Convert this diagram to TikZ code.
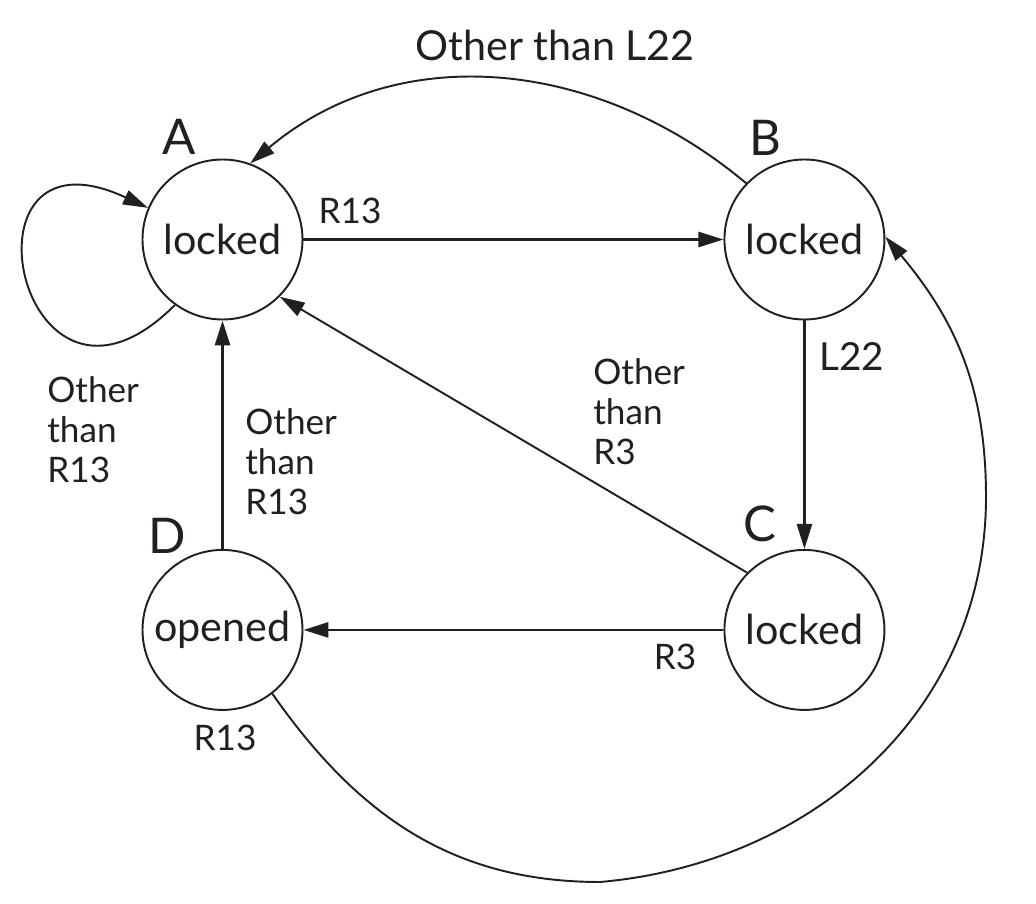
\documentclass[tikz,border=0pt]{standalone}
\usepackage{fontspec}
\setmainfont{Lato}
\usetikzlibrary{arrows.meta,positioning}
\definecolor{ink}{HTML}{231F20}
\tikzset{
  state/.style={circle, draw=ink, line width=1.1pt, minimum size=3.2cm, inner sep=0pt, font=\fontsize{23.5}{28}\selectfont},
  tag/.style={font=\fontsize{28}{32}\selectfont, inner sep=0pt},
  lbl/.style={font=\fontsize{20}{22.7}\selectfont, inner sep=0pt, align=left},
  biglbl/.style={lbl, font=\fontsize{23.5}{28}\selectfont},
  trans/.style={-{Triangle[length=5mm,width=3mm]}, line width=1.6pt, draw=ink},
  thinarrow/.style={-{Triangle[length=5mm,width=3mm]}, line width=1.1pt, draw=ink}
}

\begin{document}
\begin{tikzpicture}[color=ink]
  \useasboundingbox (0,0) rectangle (20.72,18.06);
  \node[state] (A) at (4.45,13.27) {locked};
  \node[state, right=8.4cm of A] (B) {locked};
  \node[state, below=4.57cm of B] (C) {locked};
  \node[state, left=8.4cm of C] (D) {opened};

  \node[tag] (tA) at (3.58,15.32) {A};
  \node[tag] (tB) at (15.3,15.3) {B};
  \node[tag] (tC) at (15.2,7.58) {C};
  \node[tag] (tD) at (3.34,7.34) {D};

  \draw[trans] (A) -- (B);
  \draw[trans] (B) -- (C);
  \draw[trans] (C) -- (D);
  \draw[trans] (D) -- (A);
  \draw[thinarrow] (C.135) -- (A.-45);
  \draw[thinarrow] (B.136) to[out=140,in=40] (A.70);
  \draw[thinarrow] (A.234) .. controls +(225:4.4) and +(155:4.4) .. (A.157);
  \coordinate (low) at (12.0,0.42);
  \coordinate (far) at (19.72,8.12);
  \draw[thinarrow] (D.-52) to[out=-55,in=180] (low) to[out=5,in=-90] (far) to[out=90,in=-50] (B.2);

  \node[lbl] (l1) at (7.0,13.84) {R13};
  \node[lbl, font=\fontsize{22}{26}\selectfont] (l2) at (17.04,10.94) {L22};
  \node[lbl] (l3) at (13.5,4.92) {R3};
  \node[lbl] (l4) at (4.5,3.3) {R13};
  \node[biglbl] (l5) at (11.1,17.16) {Other than L22};
  \node[lbl, anchor=west] (l6) at (4.9,8.82) {Other\\than\\R13};
  \node[lbl, anchor=west] (l7) at (11.86,9.82) {Other\\than\\R3};
  \node[lbl, anchor=west] (l8) at (0.94,9.46) {Other\\than\\R13};
\end{tikzpicture}
\end{document}
